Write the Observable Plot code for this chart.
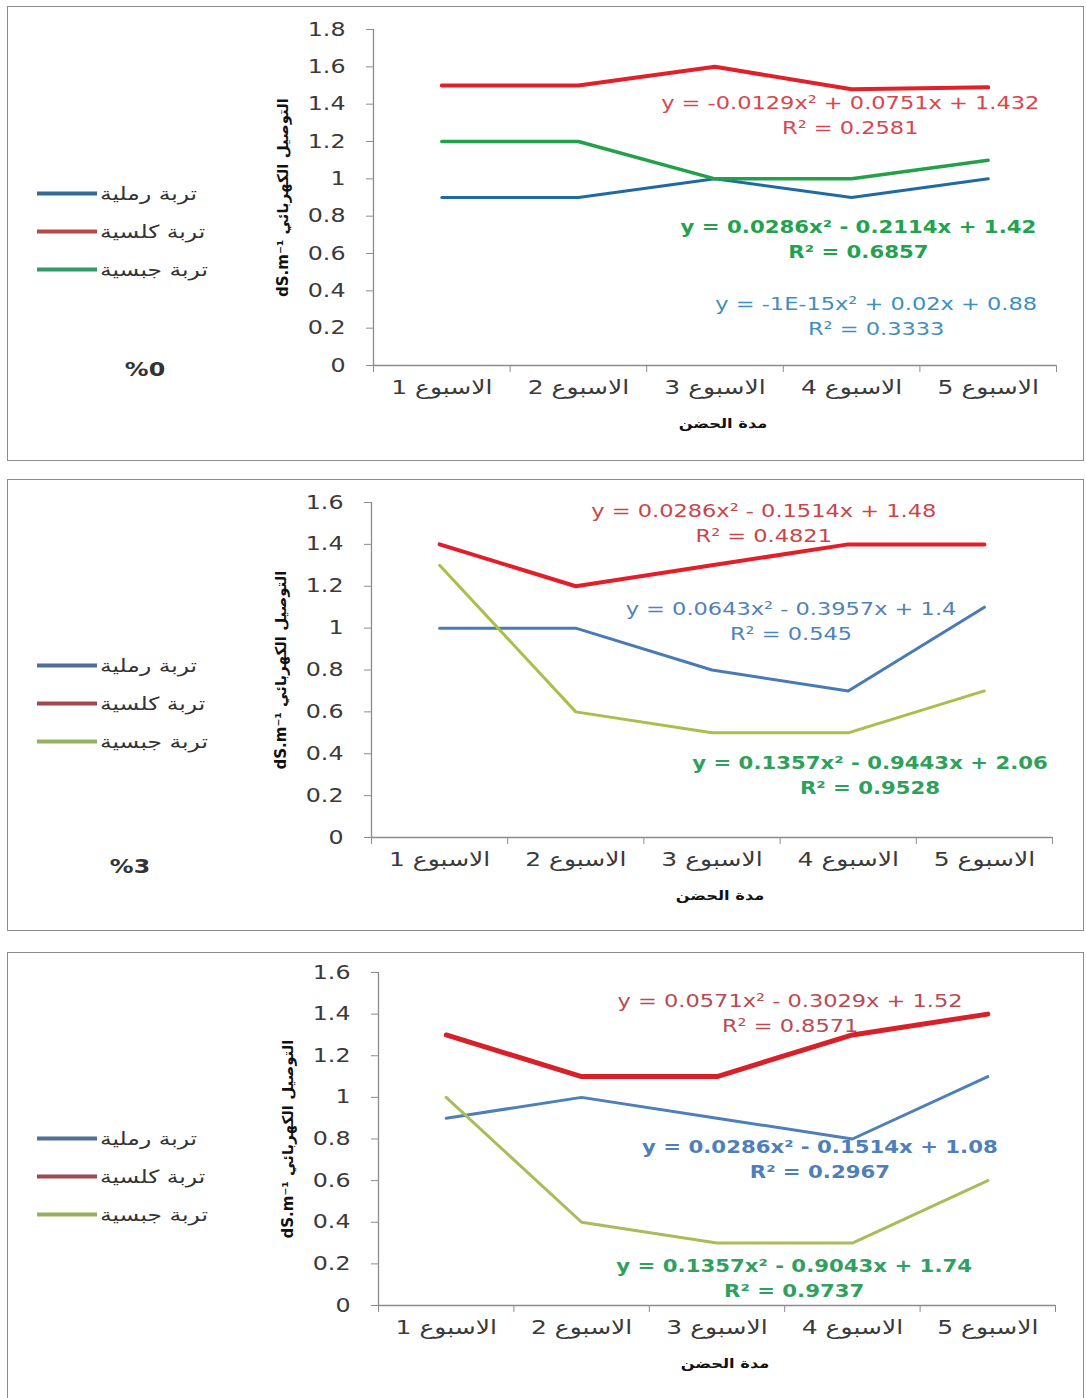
<!DOCTYPE html>
<html><head><meta charset="utf-8">
<script src="https://cdn.jsdelivr.net/npm/d3@7"></script>
<script src="https://cdn.jsdelivr.net/npm/@observablehq/plot@0.6"></script>
<style>
body{margin:0;background:#fff;}
#page{position:relative;width:1086px;height:1398px;overflow:hidden;background:#fff;font-family:"DejaVu Sans",sans-serif;}
.panel{position:absolute;border:1.5px solid #8c8c8c;box-sizing:border-box;}
.plotwrap{position:absolute;left:0;}
.leg{position:absolute;left:37px;display:flex;align-items:center;transform:translateY(-50%);}
.leg .sw{width:60px;height:4px;}
.leg .lt{margin-left:3px;font-size:18px;color:#333;display:inline-block;transform:scaleX(1.3);transform-origin:left center;}
.pct{position:absolute;font-size:19px;font-weight:bold;color:#333;transform:translate(-50%,-50%) scaleX(1.25);}
</style></head><body><div id="page"></div>
<script>
// ---------- data ----------
const weeks = [1, 2, 3, 4, 5];
const weekLabels = ["الاسبوع 1", "الاسبوع 2", "الاسبوع 3", "الاسبوع 4", "الاسبوع 5"];
const soilNames = ["تربة رملية", "تربة كلسية", "تربة جبسية"];
const xTitle = "مدة الحضن";
const yTitle = "dS.m⁻¹ التوصيل الكهربائي";
const pctLabels = ["%0", "%3", ""];

const yTicks0 = [0, 0.2, 0.4, 0.6, 0.8, 1, 1.2, 1.4, 1.6, 1.8];
const yTicks3 = [0, 0.2, 0.4, 0.6, 0.8, 1, 1.2, 1.4, 1.6];

// panel 1 (0%)
const sand0 = [0.9, 0.9, 1.0, 0.9, 1.0];
const calc0 = [1.5, 1.5, 1.6, 1.48, 1.49];
const gyps0 = [1.2, 1.2, 1.0, 1.0, 1.1];
const eqText0 = ["y = -0.0129x² + 0.0751x + 1.432", "R² = 0.2581", "y = 0.0286x² - 0.2114x + 1.42", "R² = 0.6857", "y = -1E-15x² + 0.02x + 0.88", "R² = 0.3333"];
const eqX0 = [3.99, 3.99, 4.05, 4.05, 4.18, 4.18];
const eqY0 = [1.403, 1.27, 0.739, 0.605, 0.327, 0.193];

// panel 2 (3%)
const sand3 = [1.0, 1.0, 0.8, 0.7, 1.1];
const calc3 = [1.4, 1.2, 1.3, 1.4, 1.4];
const gyps3 = [1.3, 0.6, 0.5, 0.5, 0.7];
const eqText3 = ["y = 0.0286x² - 0.1514x + 1.48", "R² = 0.4821", "y = 0.0643x² - 0.3957x + 1.4", "R² = 0.545", "y = 0.1357x² - 0.9443x + 2.06", "R² = 0.9528"];
const eqX3 = [3.38, 3.38, 3.58, 3.58, 4.16, 4.16];
const eqY3 = [1.557, 1.437, 1.089, 0.969, 0.353, 0.234];

// panel 3
const sand6 = [0.9, 1.0, 0.9, 0.8, 1.1];
const calc6 = [1.3, 1.1, 1.1, 1.3, 1.4];
const gyps6 = [1.0, 0.4, 0.3, 0.3, 0.6];
const eqText6 = ["y = 0.0571x² - 0.3029x + 1.52", "R² = 0.8571", "y = 0.0286x² - 0.1514x + 1.08", "R² = 0.2967", "y = 0.1357x² - 0.9043x + 1.74", "R² = 0.9737"];
const eqX6 = [3.54, 3.54, 3.76, 3.76, 3.57, 3.57];
const eqY6 = [1.461, 1.341, 0.759, 0.639, 0.187, 0.067];

// ---------- styles ----------
const panels = [
  {top: 0, height: 460, box: [7, 6, 1077, 455], mL: 373, mR: 30, mT: 29, mB: 95, yMax: 1.8, yTicks: yTicks0,
   series: [
     {v: sand0, c: "#1f6aa5", w: 3, lc: "#336b94"},
     {v: calc0, c: "#e0202b", w: 4, lc: "#b34b4b"},
     {v: gyps0, c: "#25a04a", w: 3.5, lc: "#339966"}],
   eq: {text: eqText0, x: eqX0, y: eqY0, colors: ["#d9454f", "#22a24e", "#3d8fc0"], bold: [false, true, false]},
   legY: [193, 231, 269], pct: [145, 369]},
  {top: 470, height: 460, box: [7, 479, 1077, 452], mL: 371, mR: 34, mT: 32, mB: 93, yMax: 1.6, yTicks: yTicks3,
   series: [
     {v: sand3, c: "#4a7ab5", w: 3, lc: "#4f6f95"},
     {v: calc3, c: "#e31e2a", w: 4, lc: "#a04850"},
     {v: gyps3, c: "#a9bf4a", w: 3, lc: "#96b060"}],
   eq: {text: eqText3, x: eqX3, y: eqY3, colors: ["#c8454a", "#4f83b8", "#2fa05a"], bold: [false, false, true]},
   legY: [665, 703, 741], pct: [130, 866]},
  {top: 940, height: 458, box: [7, 952, 1077, 460], mL: 378, mR: 31, mT: 32, mB: 93, yMax: 1.6, yTicks: yTicks3,
   series: [
     {v: sand6, c: "#4f7fb8", w: 3, lc: "#4f6f95"},
     {v: calc6, c: "#d8202a", w: 5, lc: "#a04850"},
     {v: gyps6, c: "#a8bd5a", w: 3, lc: "#96b060"}],
   eq: {text: eqText6, x: eqX6, y: eqY6, colors: ["#b84a55", "#4f7fb8", "#2fa060"], bold: [false, true, true]},
   legY: [1138, 1176, 1214], pct: null}
];

const page = document.getElementById("page");
const xDomain = [weeks[0] - 0.5, weeks[weeks.length - 1] + 0.5];
const bounds = weeks.map(w => w - 0.5).concat([weeks[weeks.length - 1] + 0.5]);

// widen glyphs horizontally (the reference is horizontally stretched)
function stretch(svg, s) {
  d3.select(svg).selectAll("text").each(function () {
    const tr = this.getAttribute("transform") || "";
    if (tr.includes("rotate")) return;
    if (tr) {
      this.setAttribute("transform", tr + ` scale(${s},1)`);
    } else {
      const x = +(this.getAttribute("x") || 0), y = +(this.getAttribute("y") || 0);
      this.setAttribute("transform", `translate(${x},${y}) scale(${s},1) translate(${-x},${-y})`);
    }
  });
}

panels.forEach((p, pi) => {
  const box = document.createElement("div");
  box.className = "panel";
  Object.assign(box.style, {left: p.box[0] + "px", top: p.box[1] + "px", width: p.box[2] + "px", height: p.box[3] + "px"});
  page.appendChild(box);

  const marks = [
    Plot.ruleX([xDomain[0]], {stroke: "#8c8c8c", strokeWidth: 1.3}),
    Plot.ruleY([0], {stroke: "#8c8c8c", strokeWidth: 1.3}),
    Plot.axisY(p.yTicks, {tickSize: 7, tickFormat: () => "", stroke: "#8c8c8c", label: null}),
    Plot.axisY(p.yTicks, {tickSize: 0, tickPadding: 28, tickFormat: d => String(d), fontSize: 19, color: "#3a3a3a", label: null}),
    Plot.axisX(bounds, {tickSize: 7, tickFormat: () => "", stroke: "#8c8c8c", label: null}),
    Plot.axisX(weeks, {tickSize: 0, tickPadding: 14, tickFormat: d => "\u2067" + weekLabels[d - 1] + "\u2069", fontSize: 20, color: "#3a3a3a", label: null}),
    Plot.text([yTitle], {frameAnchor: "left", textAnchor: "middle", rotate: -90, dx: -90, fontSize: 15, fontWeight: "bold", fill: "#111"}),
    Plot.text([xTitle], {frameAnchor: "bottom", dy: 62, dx: 8, fontSize: 13, fontWeight: "bold", fill: "#111"})
  ];
  p.series.forEach(s => {
    const rows = s.v.map((v, i) => ({week: weeks[i], value: v}));
    marks.push(Plot.line(rows, {x: "week", y: "value", stroke: s.c, strokeWidth: s.w, strokeLinejoin: "round"}));
  });
  p.eq.text.forEach((t, i) => {
    const k = Math.floor(i / 2);
    const b = p.eq.bold[k];
    marks.push(Plot.text([{x: p.eq.x[i], y: p.eq.y[i], t}], {x: "x", y: "y", text: "t", fontSize: b ? 17 : 18,
      fill: p.eq.colors[k], fontWeight: b ? "bold" : "normal"}));
  });

  const chart = Plot.plot({
    width: 1086, height: p.height,
    marginLeft: p.mL, marginRight: p.mR, marginTop: p.mT, marginBottom: p.mB,
    x: {domain: xDomain},
    y: {domain: [0, p.yMax]},
    style: {fontFamily: "DejaVu Sans, sans-serif", background: "none", overflow: "visible"},
    marks
  });
  stretch(chart, 1.25);
  const wrap = document.createElement("div");
  wrap.className = "plotwrap";
  wrap.style.top = p.top + "px";
  wrap.appendChild(chart);
  page.appendChild(wrap);

  p.series.forEach((s, k) => {
    const lg = document.createElement("div");
    lg.className = "leg";
    lg.style.top = p.legY[k] + "px";
    lg.innerHTML = `<div class="sw" style="background:${s.lc}"></div><div class="lt">${soilNames[k]}</div>`;
    page.appendChild(lg);
  });
  if (p.pct && pctLabels[pi]) {
    const pc = document.createElement("div");
    pc.className = "pct";
    pc.style.left = p.pct[0] + "px";
    pc.style.top = p.pct[1] + "px";
    pc.textContent = pctLabels[pi];
    page.appendChild(pc);
  }
});
</script></body></html>
